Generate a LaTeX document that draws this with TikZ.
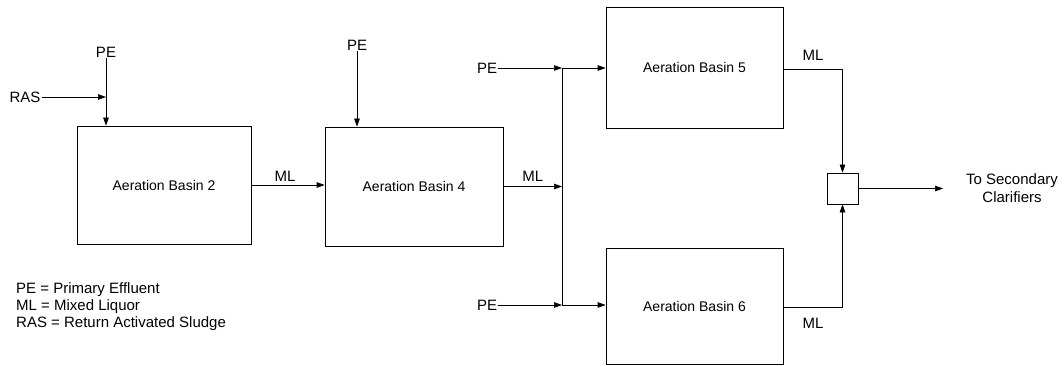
\documentclass[tikz,border=0pt]{standalone}
\usepackage{fontspec}
\setmainfont{Liberation Sans}
\usetikzlibrary{arrows.meta}
\begin{document}
\begin{tikzpicture}[x=1pt,y=-1pt,
  font=\fontsize{14}{17}\selectfont,
  basin/.style={draw, line width=0.7pt, rectangle, inner sep=0pt},
  lbl/.style={inner sep=1pt, font=\fontsize{15}{17}\selectfont},
  flow/.style={line width=0.7pt, -{Triangle[length=8pt,width=5.5pt]}},
  pipe/.style={line width=0.7pt}]
\useasboundingbox (0,0) rectangle (1064,366);
% basins
\node[basin, minimum width=174pt, minimum height=118pt] (b2) at (164,185) {Aeration Basin 2};
\node[basin, minimum width=178pt, minimum height=119pt] (b4) at (414,186.5) {Aeration Basin 4};
\node[basin, minimum width=177pt, minimum height=121pt] (b5) at (694.5,67.5) {Aeration Basin 5};
\node[basin, minimum width=177pt, minimum height=116pt] (b6) at (694.5,306) {Aeration Basin 6};
\node[basin, minimum width=31pt, minimum height=31pt] (mix) at (842.5,188.5) {};
% labels
\node[lbl] (pe2) at (106,52) {PE};
\node[lbl] (ras) at (25,97) {RAS};
\node[lbl] (pe4) at (357,45) {PE};
\node[lbl] (pe5) at (487,68) {PE};
\node[lbl] (pe6) at (487,305) {PE};
\node[lbl] (ml5) at (813,55) {ML};
\node[lbl] (ml6) at (813,323) {ML};
\node[lbl, align=center] (out) at (1012,188) {To Secondary\\[1pt]Clarifiers};
\node[lbl, anchor=west, align=left] (legend) at (15,307) {PE = Primary Effluent\\ML = Mixed Liquor\\RAS = Return Activated Sludge};
% junctions
\coordinate (jt) at (562,68);
\coordinate (jb) at (562,305);
\coordinate (c5) at (842.5,69);
\coordinate (c6) at (842.5,307);
\coordinate (oend) at (943,188.5);
% connectors
\draw[flow] (pe2) -- (pe2 |- b2.north);
\draw[flow] (ras) -- (ras -| pe2);
\draw[flow] (b2.east) -- node[lbl, above=2pt, xshift=-3pt] (ml2) {ML} (b2.east -| b4.west);
\draw[flow] (pe4) -- (pe4 |- b4.north);
\draw[flow] (b4.east) -- node[lbl, above=4pt] (ml4) {ML} (b4.east -| jt);
\draw[flow] (pe5) -- (jt);
\draw[flow] (jt) -- (jt -| b5.west);
\draw[flow] (pe6) -- (jb);
\draw[flow] (jb) -- (jb -| b6.west);
\draw[pipe] (jt) -- (jb);
\draw[flow] (c5 -| b5.east) -- (c5) -- (mix);
\draw[flow] (c6 -| b6.east) -- (c6) -- (mix);
\draw[flow] (mix) -- (oend);
\end{tikzpicture}
\end{document}
